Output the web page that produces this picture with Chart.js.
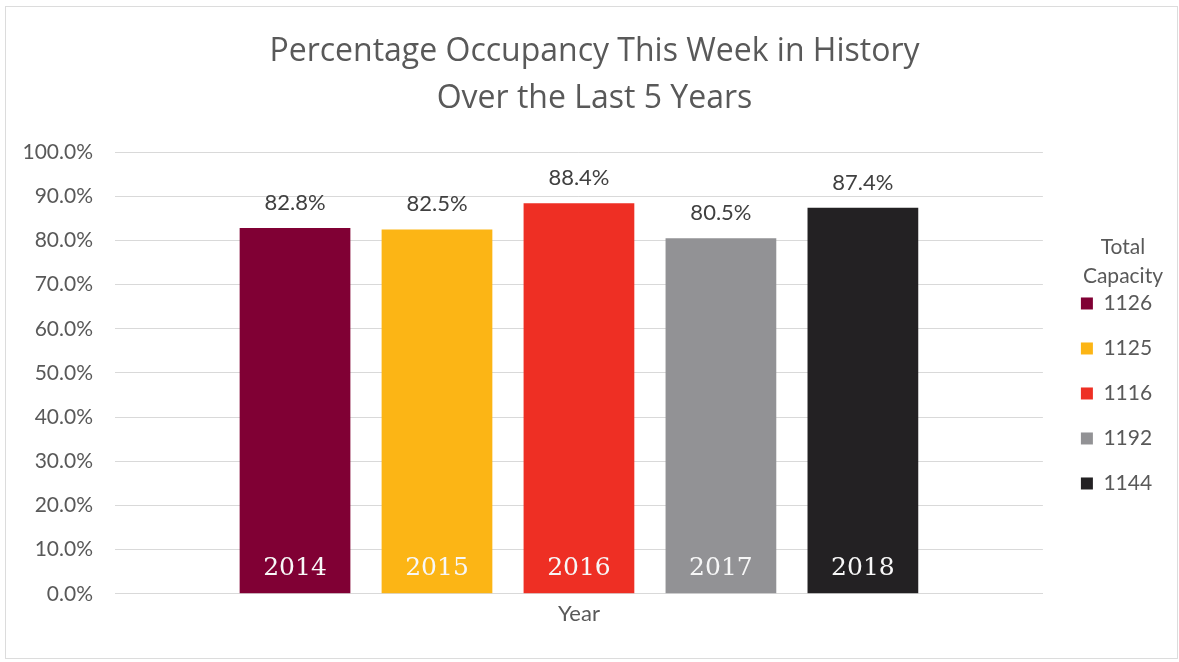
<!DOCTYPE html>
<html>
<head>
<meta charset="utf-8">
<script src="https://cdn.jsdelivr.net/npm/chart.js@4/dist/chart.umd.min.js"></script>
<style>
body{margin:0;background:#fff;}
#wrap{position:relative;width:1179px;height:662px;}
#frame{position:absolute;left:5px;top:6px;width:1171px;height:651px;border:1px solid #dcdcdc;pointer-events:none;}
</style>
</head>
<body>
<div id="wrap">
<canvas id="chart" width="1179" height="662"></canvas>
<div id="frame"></div>
</div>
<script>

const years = ["2014","2015","2016","2017","2018"];
const capacity = ["1126","1125","1116","1192","1144"];
const occupancy = [82.8,82.5,88.4,80.5,87.4];
const yTicks = [0,10,20,30,40,50,60,70,80,90,100];

const colors = ["#800034","#fcb515","#ee2f24","#929295","#232123"];

// value above each bar, year inside at the bottom
const barText = {
id:"barText",
afterDatasetsDraw(c){

const ctx = c.ctx;
ctx.save();
ctx.textAlign = "center";
ctx.textBaseline = "middle";

c.data.datasets.forEach((ds,i)=>{

const bar = c.getDatasetMeta(i).data[0];

ctx.fillStyle = "#404040";
ctx.font = "22px Lato";
ctx.fillText(ds.data[0].toFixed(1)+"%", bar.x, bar.y-25);

ctx.fillStyle = "#f7f7f7";
ctx.font = "25px 'DejaVu Serif'";
ctx.fillText(years[i], bar.x, bar.base-25);

});

ctx.restore();

}
};

const chart = new Chart(document.getElementById("chart"),{

type:"bar",

data:{
labels:[""],
datasets:occupancy.map((v,i)=>({
label:capacity[i],
data:[v],
backgroundColor:colors[i],
categoryPercentage:0.765,
barPercentage:0.78
}))
},

options:{

responsive:false,
animation:false,

layout:{
padding:{left:0,right:-10,top:0,bottom:28}
},

plugins:{
title:{
display:true,
text:["Percentage Occupancy This Week in History","Over the Last 5 Years"],
color:"#595959",
font:{family:"'Open Sans'",size:32,weight:"400",lineHeight:1.47},
padding:{top:28,bottom:30}
},
legend:{
position:"right",
align:"start",
title:{
display:true,
text:["Total","Capacity"],
color:"#595959",
font:{family:"Lato",size:21,lineHeight:1.38},
padding:{top:237,bottom:3}
},
labels:{
color:"#595959",
font:{family:"Lato",size:21},
boxWidth:12,
boxHeight:12,
padding:24,
// trailing spaces widen the legend so the title sits a bit further right
generateLabels(c){
return Chart.defaults.plugins.legend.labels.generateLabels(c).map(l=>{
l.text = l.text+"     ";
return l;
});
}
}
},
tooltip:{enabled:false}
},

scales:{

x:{
grid:{display:false},
border:{color:"#d9d9d9"},
ticks:{display:false},
title:{
display:true,
text:"Year",
color:"#595959",
font:{family:"Lato",size:22,lineHeight:1.1},
padding:{top:0,bottom:8}
}
},

y:{
min:0,
max:100,
afterBuildTicks(s){
s.ticks = yTicks.map(v=>({value:v}));
},
afterFit(s){
s.width = 115;
},
ticks:{
color:"#595959",
font:{family:"Lato",size:21},
padding:22,
callback:v=>v.toFixed(1)+"%"
},
grid:{color:"#d9d9d9",drawTicks:false},
border:{display:false}
},

// empty strip between plot and legend
gap:{
position:"right",
display:true,
grid:{display:false},
ticks:{display:false},
border:{display:false},
afterFit(s){
s.width = 14;
}
}

}

},

plugins:[barText]

});

</script>
</body>
</html>
